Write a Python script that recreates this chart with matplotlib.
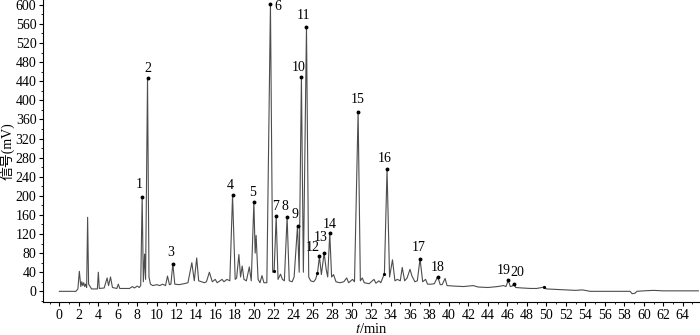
import matplotlib.pyplot as plt
from matplotlib.ticker import MultipleLocator

# 色谱图数据 (保留时间 min, 信号 mV)
rt = [0.0, 1.7, 1.9, 2.05, 2.2, 2.3, 2.4, 2.5, 2.6, 2.7, 2.8, 2.9, 3.0, 3.1, 3.3,
      3.9, 4.0, 4.1, 4.6, 4.9, 5.05, 5.25, 5.45, 5.9, 6.05, 6.2, 7.2, 7.5, 7.7,
      8.0, 8.2, 8.35, 8.5, 8.62, 8.75, 8.85, 9.05, 9.2, 9.35, 9.6, 10.0, 10.3,
      10.6, 10.9, 11.1, 11.3, 11.45, 11.65, 11.85, 12.3, 12.8, 13.2, 13.6, 13.85,
      14.1, 14.3, 14.6, 14.9, 15.1, 15.4, 15.7, 16.0, 16.2, 16.7, 16.9, 17.2,
      17.5, 17.78, 18.05, 18.2, 18.43, 18.6, 18.77, 18.95, 19.2, 19.5, 19.7,
      19.97, 20.1, 20.2, 20.4, 20.6, 20.8, 21.0, 21.3, 21.67, 21.9, 22.05, 22.26,
      22.45, 22.7, 22.9, 23.1, 23.38, 23.6, 23.9, 24.1, 24.45, 24.62, 24.85,
      25.05, 25.37, 25.6, 25.8, 26.1, 26.3, 26.5, 26.7, 26.9, 27.18, 27.4, 27.55,
      27.76, 27.95, 28.15, 28.4, 28.8, 29.2, 29.5, 29.7, 30.1, 30.3, 30.67, 30.9,
      31.1, 31.3, 31.8, 32.3, 32.5, 32.8, 33.0, 33.37, 33.64, 33.9, 34.2, 34.45,
      34.7, 35.0, 35.2, 35.45, 35.7, 36.0, 36.2, 36.5, 36.75, 37.03, 37.3, 37.6,
      37.8, 38.2, 38.5, 38.84, 39.1, 39.3, 39.6, 39.8, 40.5, 41.5, 42.5, 43.0,
      44.0, 45.0, 45.6, 45.85, 46.08, 46.3, 46.5, 46.67, 46.85, 47.5, 48.4, 49.0,
      49.8, 50.0, 51.0, 52.0, 53.0, 53.7, 54.5, 58.6, 58.8, 59.1, 59.3, 60.0,
      61.0, 62.0, 65.6]
signal = [0, 0, 5, 42, 10, 20, 12, 18, 10, 15, 8, 155, 15, 12, 5,
          5, 40, 6, 7, 28, 12, 30, 8, 6, 15, 6, 6, 10, 7,
          11, 8, 12, 198, 20, 78, 25, 446, 30, 15, 12, 14, 12,
          15, 12, 32, 14, 15, 58, 15, 14, 16, 18, 60, 22,
          70, 22, 20, 18, 20, 40, 20, 25, 18, 25, 20, 25,
          22, 201, 25, 28, 77, 30, 53, 25, 22, 51, 22,
          187, 80, 117, 25, 18, 33, 18, 18, 601, 40, 43, 157,
          25, 36, 25, 22, 156, 22, 20, 30, 137, 40, 448,
          40, 554, 30, 22, 20, 25, 38, 73, 35, 80, 45, 30,
          122, 30, 35, 20, 18, 20, 28, 18, 25, 20, 376, 22,
          28, 18, 16, 25, 17, 22, 18, 37, 256, 30, 66, 22,
          25, 22, 50, 22, 28, 46, 32, 20, 22, 68, 20, 25,
          15, 15, 16, 31, 14, 14, 27, 12, 11, 10, 12, 9,
          8, 10, 12, 10, 23, 10, 11, 16, 8, 7, 6, 6,
          9, 5, 4, 3, 2, 3, 0, 0, -5, -4, 0, 1,
          2, 1, 1]

# 峰编号及峰顶
peak_ids = [str(i) for i in range(1, 21)]
peak_rt = [8.5, 9.05, 11.65, 17.78, 19.97, 21.67, 22.26, 23.38, 24.45, 24.85,
           25.37, 26.7, 27.18, 27.76, 30.67, 33.64, 37.03, 38.84, 46.08, 46.67]
peak_signal = [198, 446, 58, 201, 187, 601, 157, 156, 137, 448,
               554, 73, 80, 122, 376, 256, 68, 31, 23, 16]
# 其他积分标记点
mark_rt = [22.05, 26.5, 33.37, 49.8]
mark_signal = [43, 38, 37, 9]

# 标签偏移 (像素)
label_offset = [(-3, 12), (0, 10), (-2, 11), (-2, 10), (-1, 10), (7, -2),
                (-1, 10), (-2, 10), (-3, 11), (-3, 10), (-3, 11), (-7, 9),
                (-3, 16), (0, 9), (0, 12), (-2, 11), (-1, 11), (0, 9),
                (-4, 10), (3, 11)]

plt.rcParams['font.family'] = ['Liberation Serif', 'Noto Sans CJK SC']
plt.rcParams['mathtext.fontset'] = 'stix'

fig = plt.figure(figsize=(7, 3.35), dpi=100)
ax = fig.add_axes([0.062, 0.099, 0.937, 0.901])

ax.plot(rt, signal, color='#4d4d4d', lw=0.8)
ax.plot(peak_rt, peak_signal, 'o', color='black', ms=1.8)
ax.plot(mark_rt, mark_signal, 'o', color='black', ms=1.3)

for name, x, y, off in zip(peak_ids, peak_rt, peak_signal, label_offset):
    ax.annotate(name, (x, y), xytext=off, textcoords='offset pixels',
                ha='center', va='center', fontsize=10)

ax.set_xlim(-1.64, 65.7)
ax.set_ylim(-22, 610)
ax.xaxis.set_major_locator(MultipleLocator(2))
ax.xaxis.set_minor_locator(MultipleLocator(1))
ax.yaxis.set_major_locator(MultipleLocator(40))
ax.yaxis.set_minor_locator(MultipleLocator(20))
ax.tick_params(which='major', direction='out', length=3, width=0.8, labelsize=10, pad=2)
ax.tick_params(which='minor', direction='out', length=1.5, width=0.6)

for s in ['top', 'right']:
    ax.spines[s].set_visible(False)
for s in ['left', 'bottom']:
    ax.spines[s].set_linewidth(0.8)

ax.set_xlabel('$t$/min', fontsize=10.5, labelpad=0)
ax.set_ylabel('信号(mV)', fontsize=10, labelpad=1)

fig.savefig('out.png', dpi=100)
